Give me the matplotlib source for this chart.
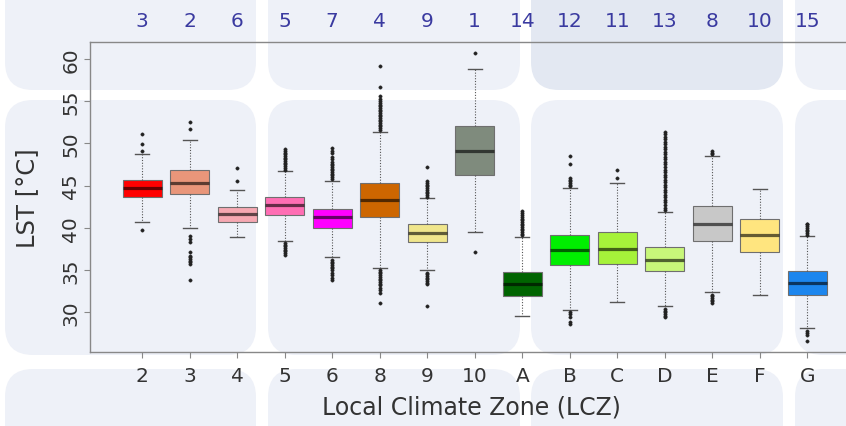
import matplotlib
matplotlib.use('Agg')
import matplotlib.pyplot as plt
from matplotlib.patches import FancyBboxPatch

# Datos
zonas = ['2', '3', '4', '5', '6', '8', '9', '10', 'A', 'B', 'C', 'D', 'E', 'F', 'G']
rangos = [3, 2, 6, 5, 7, 4, 9, 1, 14, 12, 11, 13, 8, 10, 15]
medianas = [44.7, 45.3, 41.6, 42.7, 41.25, 43.3, 39.4, 49.1, 33.3, 37.4, 37.55, 36.2, 40.5, 39.15, 33.5]
q1 = [43.7, 44.0, 40.7, 41.55, 39.95, 41.25, 38.3, 46.2, 31.9, 35.6, 35.7, 34.85, 38.45, 37.1, 32.1]
q3 = [45.7, 46.85, 42.5, 43.65, 42.2, 45.3, 40.45, 52.05, 34.8, 39.2, 39.55, 37.7, 42.55, 41.05, 34.85]
bigote_inf = [40.7, 40.0, 38.9, 38.4, 36.5, 35.2, 35.0, 39.55, 29.6, 30.3, 31.2, 30.7, 32.35, 32.1, 28.1]
bigote_sup = [48.7, 50.4, 44.5, 46.7, 45.6, 51.35, 43.5, 58.8, 38.9, 44.7, 45.35, 41.9, 48.55, 44.6, 39.0]
atipicos = [
    [39.7, 49.1, 49.9, 51.1],
    [33.85, 35.7, 35.9, 36.1, 36.3, 36.5, 36.7, 37.1, 38.3, 38.7, 39.07, 51.7, 52.5],
    [45.5, 47.1],
    [36.8, 37.0, 37.2, 37.4, 37.6, 37.8, 38.0, 38.2, 46.9, 47.1, 47.3, 47.5, 47.7, 47.9, 48.1,
     48.3, 48.5, 48.7, 48.9, 49.1, 49.3],
    [33.8, 34.1, 34.4, 34.7, 35.0, 35.2, 35.4, 35.6, 35.8, 36.0, 36.2, 45.8, 46.0, 46.2, 46.4,
     46.6, 46.8, 47.0, 47.2, 47.4, 47.6, 47.8, 48.1, 48.4, 48.8, 49.1, 49.5],
    [31.1, 32.3, 32.6, 32.9, 33.2, 33.4, 33.6, 33.8, 34.0, 34.2, 34.4, 34.6, 34.8, 34.95,
     51.6, 51.8, 52.0, 52.2, 52.4, 52.6, 52.8, 53.0, 53.2, 53.4, 53.6, 53.8, 54.0, 54.2, 54.4,
     54.6, 54.8, 55.0, 55.3, 55.6, 56.7, 59.1],
    [30.8, 33.3, 33.5, 33.7, 33.9, 34.1, 34.3, 34.5, 34.7, 43.7, 43.9, 44.1, 44.3, 44.5, 44.7,
     44.9, 45.1, 45.3, 45.5, 47.2],
    [37.1, 60.7],
    [39.1, 39.3, 39.5, 39.7, 39.9, 40.1, 40.3, 40.5, 40.7, 40.9, 41.1, 41.3, 41.5, 41.7, 42.0],
    [28.6, 28.9, 29.5, 29.8, 30.0, 44.9, 45.1, 45.3, 45.5, 45.7, 45.9, 47.5, 48.5],
    [45.9, 46.8],
    [29.4, 29.6, 29.8, 30.0, 30.2, 30.4, 42.1, 42.4, 42.7, 43.0, 43.3, 43.6, 43.9, 44.2, 44.5,
     44.8, 45.1, 45.4, 45.7, 46.0, 46.3, 46.6, 46.9, 47.2, 47.5, 47.8, 48.1, 48.4, 48.7, 49.0,
     49.3, 49.6, 49.9, 50.2, 50.5, 50.8, 51.1, 51.3],
    [31.1, 31.3, 31.5, 31.7, 31.9, 32.1, 48.7, 48.9, 49.1],
    [],
    [26.6, 27.3, 27.6, 27.8, 39.2, 39.4, 39.6, 39.8, 40.0, 40.2, 40.4, 40.5],
]
colores = ['#ff0000', '#e9967a', '#f6a8b2', '#ff6eb4', '#ff00ff', '#cd6600', '#f0e68c', '#7f8b7d',
           '#006400', '#00ee00', '#a6f23a', '#c8f77a', '#c8c8c8', '#ffe57f', '#1c86ee']

fig = plt.figure(figsize=(8.46, 4.27), dpi=100)
W, H = 846, 427

# Fondo decorativo de baldosas redondeadas (en pulgadas, 100 px = 1 pulgada)
def baldosa(x0, y0, x1, y1, color):
    p = FancyBboxPatch((x0 / 100, (H - y1) / 100), (x1 - x0) / 100, (y1 - y0) / 100,
                       boxstyle='round,pad=0,rounding_size=0.28',
                       transform=fig.dpi_scale_trans, facecolor=color, edgecolor='none', zorder=-10)
    fig.patches.append(p)

cols = [(5, 256), (268, 520), (531, 783), (795, 900)]
filas = [(-40, 91), (101, 356), (370, 480)]
for i, (x0, x1) in enumerate(cols):
    for j, (y0, y1) in enumerate(filas):
        c = '#e3e8f2' if (i == 2 and j == 0) else '#eef1f8'
        baldosa(x0, y0, x1, y1, c)

ax = fig.add_axes([90 / W, 1 - 353 / H, 762 / W, 310 / H])
ax.patch.set_alpha(0)

posiciones = list(range(1, len(zonas) + 1))
stats = []
for k in range(len(zonas)):
    stats.append({'med': medianas[k], 'q1': q1[k], 'q3': q3[k],
                  'whislo': bigote_inf[k], 'whishi': bigote_sup[k], 'fliers': atipicos[k]})

bp = ax.bxp(stats, positions=posiciones, widths=0.82, patch_artist=True, showfliers=True,
            boxprops=dict(edgecolor='#6f6f6f', linewidth=0.8),
            medianprops=dict(color='black', alpha=0.6, linewidth=2.3),
            whiskerprops=dict(color='#555555', linestyle=(0, (1, 1.5)), linewidth=0.8),
            capprops=dict(color='#555555', linewidth=1.0),
            flierprops=dict(marker='o', markersize=2.4, markerfacecolor='#222222',
                            markeredgecolor='#222222', markeredgewidth=0.3, linestyle='none'),
            capwidths=0.3)
for caja, c in zip(bp['boxes'], colores):
    caja.set_facecolor(c)

ax.set_xlim(-0.097, 15.94)
ax.set_ylim(25.3, 62.0)
ax.set_xticks(posiciones)
ax.set_xticklabels(zonas)
ax.set_yticks([30, 35, 40, 45, 50, 55, 60])
ax.tick_params(axis='y', labelrotation=90, length=4, color='#888888', labelsize=14.5,
               labelcolor='#333333', pad=3)
ax.tick_params(axis='x', length=4, color='#888888', labelsize=14.5, labelcolor='#333333', pad=6)
for lab in ax.get_yticklabels():
    lab.set_va('center')

for s in ['left', 'bottom', 'top', 'right']:
    ax.spines[s].set_color('#888888')
    ax.spines[s].set_linewidth(1.0)

for p, r in zip(posiciones, rangos):
    ax.text(p, 1.068, str(r), transform=ax.get_xaxis_transform(), ha='center', va='center',
            fontsize=14.5, color='#3a3aa0')

ax.set_xlabel('Local Climate Zone (LCZ)', fontsize=17, color='#333333', labelpad=7)
ax.set_ylabel('LST [°C]', fontsize=17.5, color='#333333', labelpad=16)

fig.savefig('out.png', dpi=100)
